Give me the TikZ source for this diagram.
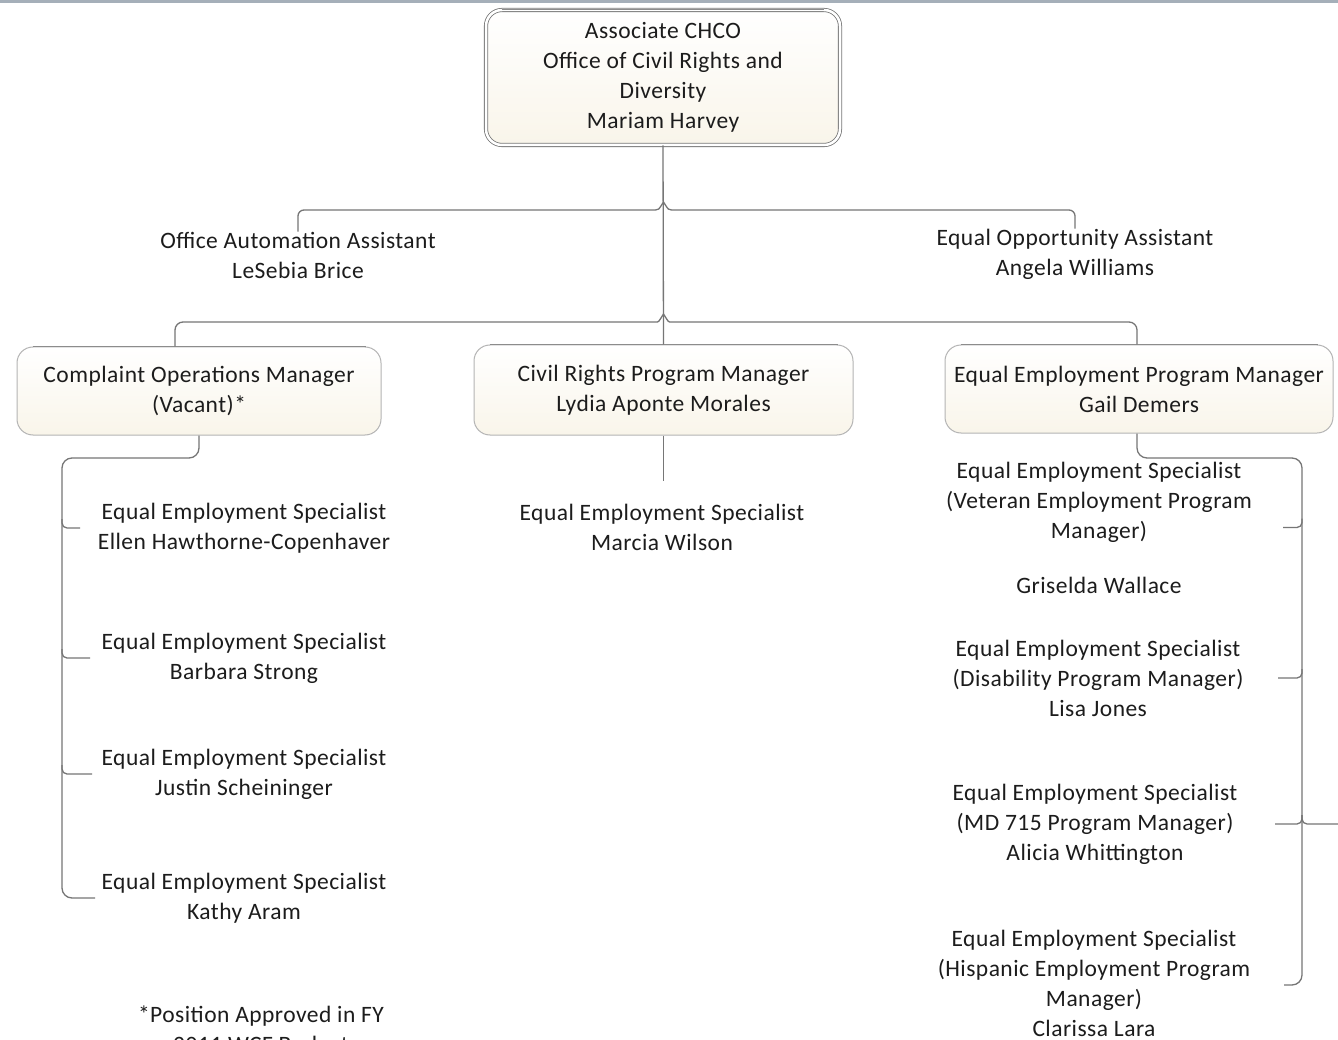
\documentclass[tikz,border=0pt]{standalone}
\usepackage{fontspec}
\setmainfont{Carlito}[LetterSpace=2.0]
\usetikzlibrary{calc}
\definecolor{linegray}{RGB}{118,118,118}
\definecolor{boxgray}{RGB}{180,180,180}
\definecolor{edgegray}{RGB}{140,140,140}
\definecolor{cream}{RGB}{249,245,234}
\definecolor{inkblack}{RGB}{28,28,28}
\definecolor{topband}{RGB}{165,175,185}
\begin{document}
\begin{tikzpicture}[x=1pt,y=-1pt,
  conn/.style={draw=linegray, line width=1.3pt},
  orgbox/.style={rounded corners=16pt, draw=boxgray, line width=1pt,
    top color=white, bottom color=cream, align=center, inner sep=0pt,
    font=\fontsize{23.5}{30}\selectfont, text=inkblack},
  lbl/.style={align=center, inner sep=0pt, font=\fontsize{23.5}{30}\selectfont, text=inkblack},
]
\useasboundingbox (0,0) rectangle (1338,1040);
\clip (0,0) rectangle (1338,1040);
\fill[white] (0,0) rectangle (1338,1040);
\fill[topband] (0,0) rectangle (1338,3);

% head of office
\node[orgbox, minimum width=354pt, minimum height=135pt, draw=linegray,
      double=white, double distance=2.5pt, line width=0.8pt] (chief) at (663,77.5)
  {Associate CHCO\\Office of Civil Rights and\\Diversity\\Mariam Harvey};

% assistants
\node[lbl] (oaa) at (298,255) {Office Automation Assistant\\LeSebia Brice};
\node[lbl] (eoa) at (1075,254) {Equal Opportunity Assistant\\Angela Williams};

% program managers
\node[orgbox, minimum width=364pt, minimum height=88pt] (lbox) at (199,391)
  {Complaint Operations Manager\\(Vacant)*};
\node[orgbox, minimum width=379pt, minimum height=90pt] (mbox) at (663.5,390)
  {Civil Rights Program Manager\\Lydia Aponte Morales};
\node[orgbox, minimum width=388pt, minimum height=88pt] (rbox) at (1139,389)
  {Equal Employment Program Manager\\Gail Demers};
\foreach \b in {chief,lbox,mbox,rbox}
  \draw[edgegray, line width=1pt] ($(\b.north west)+(16,0)$) -- ($(\b.north east)+(-16,0)$);

% complaint operations staff
\node[lbl] (lk1) at (244,528) {Equal Employment Specialist\\Ellen Hawthorne-Copenhaver};
\node[lbl] (lk2) at (244,658) {Equal Employment Specialist\\Barbara Strong};
\node[lbl] (lk3) at (244,774) {Equal Employment Specialist\\Justin Scheininger};
\node[lbl] (lk4) at (244,898) {Equal Employment Specialist\\Kathy Aram};
\node[lbl] (note) at (261,1031) {*Position Approved in FY\\2011 WCF Budget};

% civil rights staff
\node[lbl] (mk1) at (662,527) {Equal Employment Specialist\\Marcia Wilson};

% equal employment staff
\node[lbl] (rk1) at (1099,527.5) {Equal Employment Specialist\\(Veteran Employment Program\\Manager)\\[25pt]Griselda Wallace};
\node[lbl] (rk2) at (1098,678) {Equal Employment Specialist\\(Disability Program Manager)\\Lisa Jones};
\node[lbl] (rk3) at (1095,824) {Equal Employment Specialist\\(MD 715 Program Manager)\\Alicia Whittington};
\node[lbl] (rk4) at (1094,983.5) {Equal Employment Specialist\\(Hispanic Employment Program\\Manager)\\Clarissa Lara};

% branch points and bracket corners
\coordinate (b1) at (663.5,210);
\coordinate (b2) at (663.5,322);
\coordinate (lt) at (62,458);
\coordinate (lb) at (62,898);
\coordinate (rt) at (1302,458);
\coordinate (rb) at (1302,985);
\coordinate (offpage) at (1338,824);

% main trunk
\draw[conn] (chief.south) -- (mbox.north);
\draw[conn] (mbox.south) -- ++(0,45);

% assistants' branch
\draw[conn, rounded corners=6pt] (oaa.north) |- ($(b1)+(-14,0)$) .. controls ($(b1)+(-5,0)$) .. ($(b1)+(0,-8)$);
\draw[conn, rounded corners=6pt] (eoa.north) |- ($(b1)+(14,0)$) .. controls ($(b1)+(5,0)$) .. ($(b1)+(0,-8)$);

% managers' branch
\draw[conn, rounded corners=8pt] ([xshift=-24pt]lbox.north) |- ($(b2)+(-14,0)$) .. controls ($(b2)+(-5,0)$) .. ($(b2)+(0,-8)$);
\draw[conn, rounded corners=8pt] ([xshift=-2pt]rbox.north) |- ($(b2)+(14,0)$) .. controls ($(b2)+(5,0)$) .. ($(b2)+(0,-8)$);

% left bracket
\draw[conn, rounded corners=10pt] (lbox.south) |- (lt) -- (lb) -- ++(33,0);
\foreach \k/\len in {lk1/18,lk2/28,lk3/30}
  \draw[conn, rounded corners=5pt] ($(lt|-\k)+(0,-9)$) |- ++(\len,9);

% right bracket
\draw[conn, rounded corners=10pt] ([xshift=-2pt]rbox.south) |- (rt) -- (rb) -- ++(-18,0);
\foreach \k/\len in {rk1/19,rk2/24,rk3/27}
  \draw[conn, rounded corners=5pt] ($(rt|-\k)+(0,-9)$) |- ++(-\len,9);
\draw[conn, rounded corners=5pt] ($(rt|-rk3)+(0,-9)$) |- (offpage);
\end{tikzpicture}
\end{document}
